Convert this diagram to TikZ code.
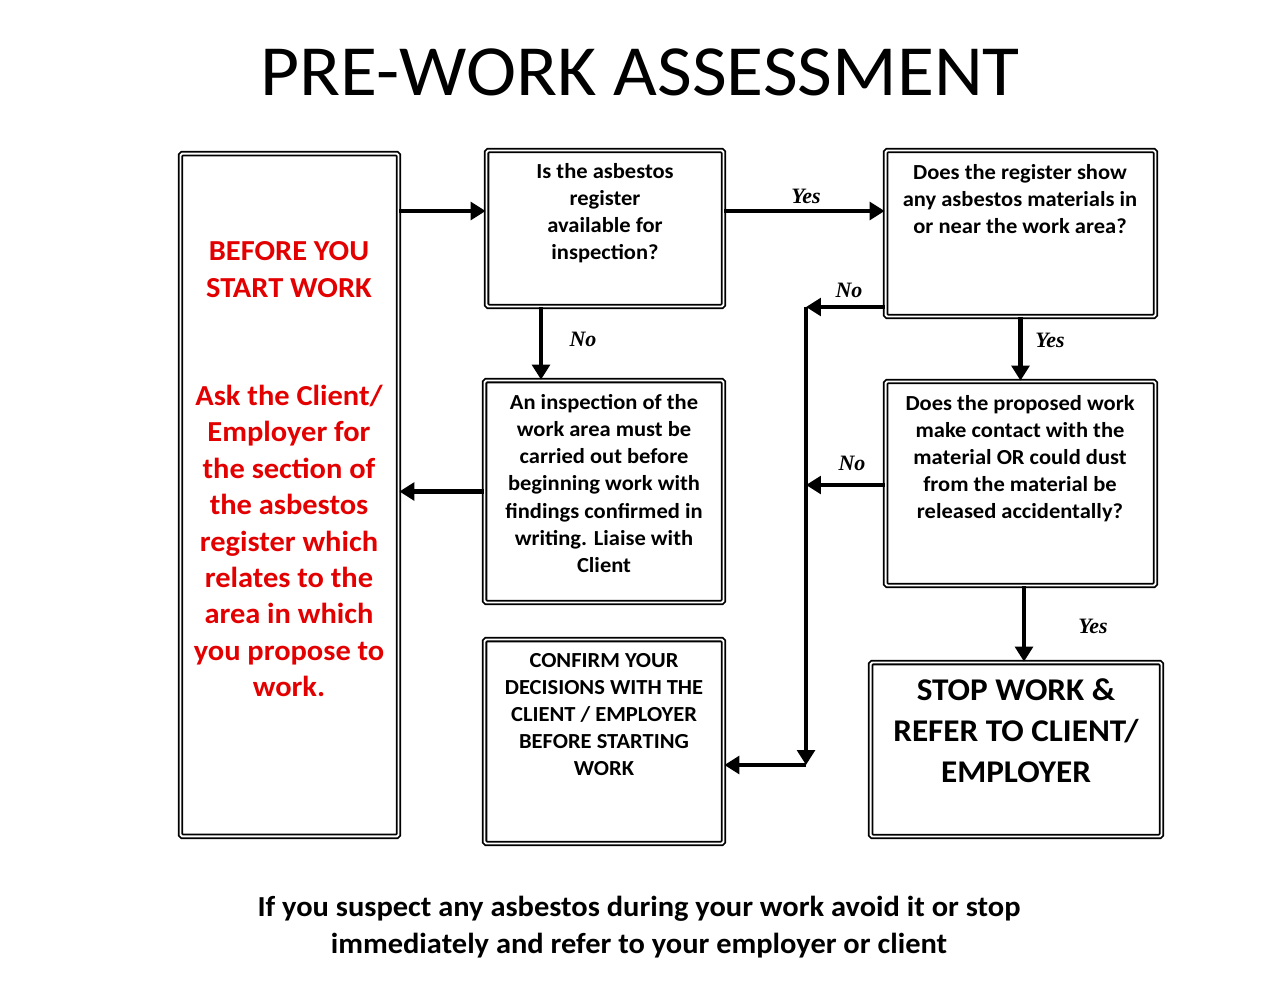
\documentclass[tikz,border=0pt]{standalone}
\usepackage{fontspec}
\setmainfont{Carlito}[FakeStretch=1.05]
\newfontfamily\lblfont{Liberation Serif}
\usepackage{tikz}
\usetikzlibrary{arrows.meta,positioning,calc}
\definecolor{warnred}{RGB}{226,0,0}

\begin{document}
\begin{tikzpicture}[x=0.02cm,y=-0.02cm,
      qbox/.style={draw,line width=1pt,double,double distance=1.1pt,rounded corners=1pt,inner sep=0pt},
      qtext/.style={align=center,font=\fontsize{12.2}{15.4}\selectfont\bfseries},
      redtext/.style={align=center,text=warnred,font=\fontsize{16.5}{20.7}\selectfont\bfseries},
      flow/.style={line width=2.6pt,-{Triangle[length=8.5pt,width=10pt]}},
      ans/.style={font=\lblfont\fontsize{12.5}{14}\selectfont\bfseries\itshape}]
    \useasboundingbox (0,0) rectangle (1280,980);
    % title
    \node[font=\fontsize{41}{48}\selectfont] (title) at (640,72) {PRE-WORK ASSESSMENT};
    % boxes
    \node[qbox,minimum width=4.36cm,minimum height=13.66cm] (lbox) at (289.5,495) {};
    \node[qbox,minimum width=4.74cm,minimum height=3.12cm] (q1) at (605,228.5) {};
    \node[qbox,minimum width=5.40cm,minimum height=3.32cm] (q2) at (1020.5,233.5) {};
    \node[qbox,minimum width=4.78cm,minimum height=4.44cm] (insp) at (604,491.5) {};
    \node[qbox,minimum width=5.40cm,minimum height=4.08cm] (q3) at (1020.5,483.5) {};
    \node[qbox,minimum width=4.78cm,minimum height=4.08cm] (conf) at (604,741.5) {};
    \node[qbox,minimum width=5.82cm,minimum height=3.48cm] (stop) at (1016,749.5) {};
    % texts
    \node[redtext] (lhead) at (289,269.5) {BEFORE YOU\\START WORK};
    \node[redtext] (lbody) at (289,541) {Ask the Client/\\Employer for\\the section of\\the asbestos\\register which\\relates to the\\area in which\\you propose to\\work.};
    \node[qtext] (q1t) at (605,213) {Is the asbestos\\register\\available for\\inspection?};
    \node[qtext] (q2t) at (1020,199) {Does the register show\\any asbestos materials in\\or near the work area?};
    \node[qtext] (inspt) at (604,483.5) {An inspection of the\\work area must be\\carried out before\\beginning work with\\findings confirmed in\\writing. Liaise with\\Client};
    \node[qtext] (q3t) at (1020,459) {Does the proposed work\\make contact with the\\material OR could dust\\from the material be\\released accidentally?};
    \node[qtext] (conft) at (604,714.5) {CONFIRM YOUR\\DECISIONS WITH THE\\CLIENT / EMPLOYER\\BEFORE STARTING\\WORK};
    \node[align=center,font=\fontsize{18}{23.3}\selectfont\bfseries] (stopt) at (1016,731) {STOP WORK \&\\REFER TO CLIENT/\\EMPLOYER};
    \node[align=center,font=\fontsize{16.5}{20.7}\selectfont\bfseries] (note) at (639,927) {If you suspect any asbestos during your work avoid it or stop\\immediately and refer to your employer or client};
    % connectors
    \coordinate (nt) at (806,307);
    \coordinate (nb) at (806,765);
    \draw[flow] (lbox.east |- 0,211) -- (q1.west |- 0,211);
    \draw[flow] (q1.east |- 0,211) -- (q2.west |- 0,211);
    \draw[flow] (q1.south -| 541,0) -- (insp.north -| 541,0);
    \draw[flow] (insp.west) -- (lbox.east |- insp.west);
    \draw[flow] (q2.south) -- (q3.north);
    \draw[flow] (q2.west |- nt) -- (nt);
    \draw[flow] (nt) -- (nb);
    \draw[flow] (nb) -- (conf.east |- nb);
    \draw[flow] (q3.west |- 0,485) -- (nt |- 0,485);
    \draw[flow] ([xshift=0.07cm]q3.south) -- ([xshift=0.07cm]q3.south |- stop.north);
    % answers
    \node[ans] at (806,196) {Yes};
    \node[ans] at (583,339) {No};
    \node[ans] at (1050,340) {Yes};
    \node[ans] at (849,290) {No};
    \node[ans] at (852,463) {No};
    \node[ans] at (1093,626) {Yes};
\end{tikzpicture}
\end{document}
